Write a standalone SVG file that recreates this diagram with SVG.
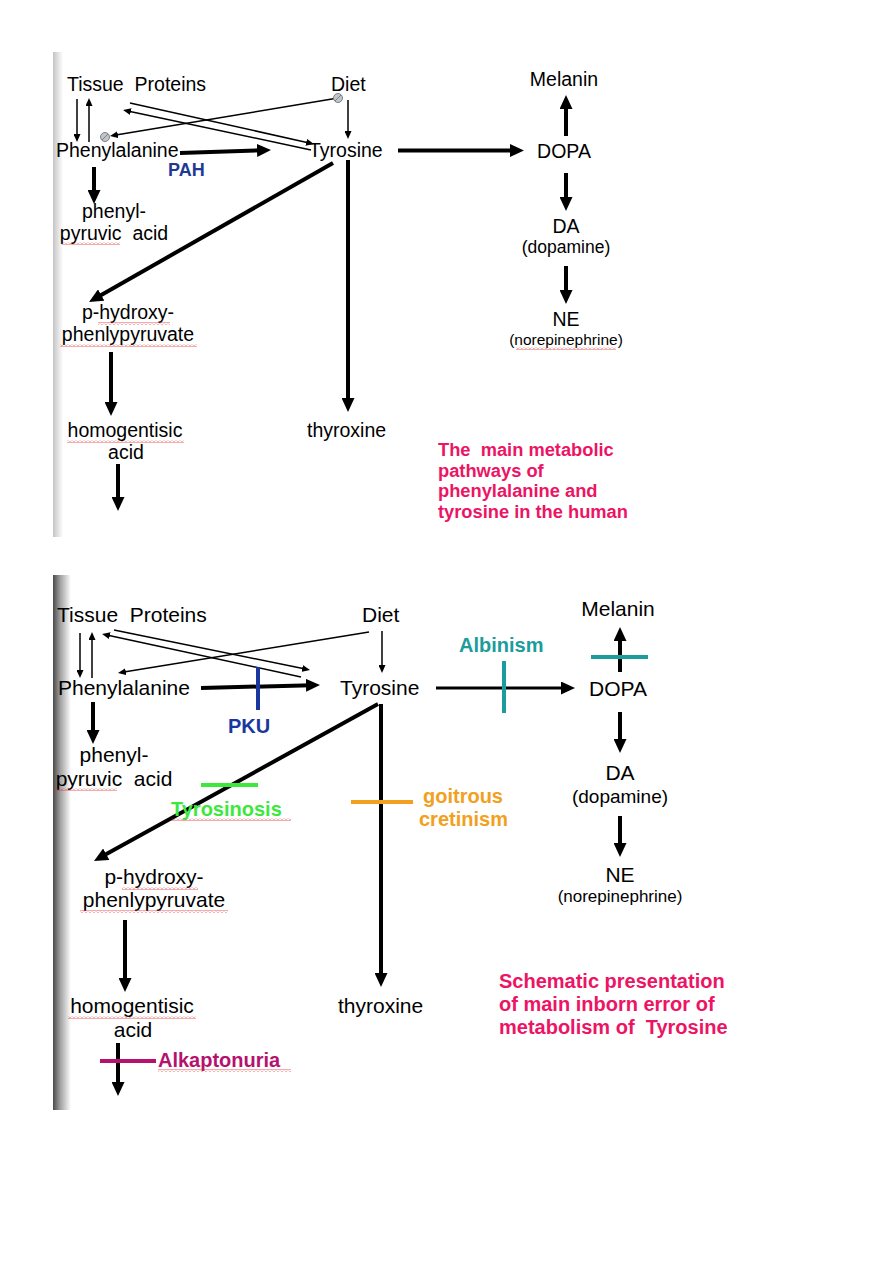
<svg xmlns="http://www.w3.org/2000/svg" width="893" height="1263" viewBox="0 0 893 1263">
<style>
text{font-family:"Liberation Sans",Arial,sans-serif;fill:#000}
.t1{font-size:19.5px}
.t2{font-size:21px}
.m{text-anchor:middle}
.b{font-weight:bold}
.thin{stroke:#000;stroke-width:1.5;fill:none;marker-end:url(#at)}
.thick{stroke:#000;stroke-width:4;fill:none;marker-end:url(#ah)}
.pink{fill:#ec1464;font-weight:bold}
.wave{fill:url(#wv)}
</style>
<defs>
<marker id="ah" markerUnits="userSpaceOnUse" viewBox="0 0 14 13" markerWidth="14" markerHeight="13" refX="6" refY="6.5" orient="auto"><path d="M0,0 L14,6.5 L0,13 z" fill="#000"/></marker>
<marker id="at" markerUnits="userSpaceOnUse" viewBox="0 0 8 7" markerWidth="8" markerHeight="7" refX="2" refY="3.5" orient="auto"><path d="M0,0 L8,3.5 L0,7 z" fill="#000"/></marker>
<pattern id="wv" patternUnits="userSpaceOnUse" width="4" height="3"><path d="M0,2.5 L2,0.5 L4,2.5" stroke="#e03030" stroke-width="0.8" fill="none"/></pattern>
<linearGradient id="g1" x1="0" y1="0" x2="1" y2="0"><stop offset="0" stop-color="#c4c4c4"/><stop offset="1" stop-color="#fff"/></linearGradient>
<linearGradient id="g2" x1="0" y1="0" x2="1" y2="0"><stop offset="0" stop-color="#4a4a4a"/><stop offset="0.4" stop-color="#a0a0a0"/><stop offset="1" stop-color="#fff"/></linearGradient>
</defs>
<rect width="893" height="1263" fill="#fff"/>
<rect x="53" y="52" width="10" height="485" fill="url(#g1)"/>
<rect x="53" y="575" width="18" height="535" fill="url(#g2)"/>

<g id="connectors">
<!-- top -->
<line class="thin" x1="77" y1="99" x2="77" y2="136"/>
<line class="thin" x1="89" y1="142" x2="89" y2="104"/>
<line class="thin" x1="130" y1="103" x2="308.1" y2="142.7"/>
<line class="thin" x1="311" y1="150" x2="128.9" y2="111.2"/>
<line class="thin" x1="338" y1="98" x2="115.9" y2="135"/>
<line class="thin" x1="348" y1="100" x2="348" y2="133"/>
<line class="thick" x1="180" y1="153" x2="263" y2="150.2"/>
<line class="thick" x1="398" y1="150.5" x2="516" y2="150.5"/>
<line class="thick" x1="566" y1="136" x2="566" y2="103"/>
<line class="thick" x1="566" y1="173" x2="566" y2="203"/>
<line class="thick" x1="566" y1="266" x2="566" y2="296"/>
<line class="thick" x1="94" y1="167" x2="94" y2="196"/>
<line class="thick" x1="333" y1="163" x2="96" y2="298"/>
<line class="thick" x1="348" y1="160" x2="348" y2="404"/>
<line class="thick" x1="111" y1="352" x2="111" y2="408"/>
<line class="thick" x1="118" y1="464" x2="118" y2="503"/>
<!-- bottom -->
<line class="thin" x1="80" y1="633" x2="80" y2="672"/>
<line class="thin" x1="92" y1="678" x2="92" y2="638"/>
<line class="thin" x1="114" y1="630" x2="304.1" y2="668.8"/>
<line class="thin" x1="301" y1="677" x2="107.9" y2="635.3"/>
<line class="thin" x1="369" y1="632" x2="123.9" y2="672"/>
<line class="thin" x1="382" y1="631" x2="382" y2="667"/>
<line class="thick" x1="201" y1="688" x2="312" y2="685.2"/>
<line class="thick" style="stroke-width:3" x1="436" y1="688" x2="567" y2="688"/>
<line class="thick" x1="620" y1="672" x2="620" y2="635"/>
<line class="thick" x1="620" y1="712" x2="620" y2="745"/>
<line class="thick" x1="620" y1="816" x2="620" y2="849"/>
<line class="thick" x1="93" y1="702" x2="93" y2="736"/>
<line class="thick" x1="378" y1="704" x2="101" y2="857.1"/>
<line class="thick" x1="381" y1="704" x2="381" y2="979"/>
<line class="thick" x1="125" y1="920" x2="125" y2="984"/>
<line class="thick" x1="118" y1="1043" x2="118" y2="1088"/>
</g>

<g id="blocks">
<line x1="258" y1="667" x2="258" y2="710" stroke="#1a37a0" stroke-width="4"/>
<line x1="504" y1="661" x2="504" y2="713" stroke="#1c9c9c" stroke-width="4"/>
<line x1="591" y1="657" x2="648" y2="657" stroke="#1c9c9c" stroke-width="4"/>
<line x1="201" y1="785" x2="258" y2="785" stroke="#3de83d" stroke-width="4"/>
<line x1="351" y1="802" x2="413" y2="802" stroke="#f2a020" stroke-width="4"/>
<line x1="100" y1="1061" x2="156" y2="1061" stroke="#b5126e" stroke-width="4"/>
</g>

<g id="top-diagram">
<g id="t-tissue"><text class="t1" x="67" y="91" xml:space="preserve">Tissue  Proteins</text></g>
<g id="t-diet"><text class="t1" x="331" y="91">Diet</text>
<circle cx="338" cy="98" r="4.5" fill="#c0c4cc" stroke="#808080" stroke-width="1"/><line x1="335" y1="101" x2="341" y2="95" stroke="#808080" stroke-width="1"/></g>
<g id="t-phe"><text class="t1" x="56" y="157">Phenylalanine</text>
<circle cx="105" cy="137" r="4.5" fill="#c0c4cc" stroke="#808080" stroke-width="1"/><line x1="102" y1="140" x2="108" y2="134" stroke="#808080" stroke-width="1"/></g>
<g id="t-pah"><text x="168" y="176" class="b" style="font-size:18px;fill:#1f3a93">PAH</text></g>
<g id="t-tyr"><text class="t1" x="309" y="157">Tyrosine</text></g>
<g id="t-dopa"><text class="t1 m" x="564" y="158">DOPA</text></g>
<g id="t-melanin"><text class="t1 m" x="564" y="86">Melanin</text></g>
<g id="t-da"><text class="t1 m" x="566" y="233">DA</text><text class="m" style="font-size:17.5px" x="566" y="253">(dopamine)</text></g>
<g id="t-ne"><text class="t1 m" x="566" y="326">NE</text><text class="m" style="font-size:15.5px" x="566" y="345">(norepinephrine)</text>
<rect class="wave" x="516" y="347" width="100" height="3"/></g>
<g id="t-ppa"><text class="t1 m" x="114" y="218">phenyl-</text><text class="t1 m" x="114" y="240" xml:space="preserve">pyruvic  acid</text>
<rect class="wave" x="62" y="242" width="58" height="3"/></g>
<g id="t-hpp"><text class="t1 m" x="128" y="319">p-hydroxy-</text><text class="t1 m" x="128" y="341">phenlypyruvate</text>
<rect class="wave" x="98" y="322" width="72" height="3"/><rect class="wave" x="60" y="344" width="137" height="3"/></g>
<g id="t-hga"><text class="t1 m" x="125" y="437">homogentisic</text><text class="t1 m" x="126" y="459">acid</text>
<rect class="wave" x="67" y="440" width="117" height="3"/></g>
<g id="t-thy"><text class="t1" x="307" y="437">thyroxine</text></g>
<g id="t-caption"><text class="pink" style="font-size:18.3px" xml:space="preserve"><tspan x="438" y="456">The  main metabolic</tspan><tspan x="438" y="477">pathways of</tspan><tspan x="438" y="497">phenylalanine and</tspan><tspan x="438" y="518">tyrosine in the human</tspan></text></g>
</g>

<g id="bottom-diagram">
<g id="b-tissue"><text class="t2" x="57" y="622" xml:space="preserve">Tissue  Proteins</text></g>
<g id="b-diet"><text class="t2" x="362" y="622">Diet</text></g>
<g id="b-phe"><text class="t2" x="58" y="695">Phenylalanine</text></g>
<g id="b-pku"><text x="228" y="733" class="b" style="font-size:20px;fill:#1a37a0">PKU</text></g>
<g id="b-tyr"><text class="t2" x="340" y="695">Tyrosine</text></g>
<g id="b-albinism"><text x="459" y="652" class="b" style="font-size:20px;fill:#1c9c9c">Albinism</text></g>
<g id="b-dopa"><text class="t2 m" x="618" y="696">DOPA</text></g>
<g id="b-melanin"><text class="t2 m" x="618" y="616">Melanin</text></g>
<g id="b-da"><text class="t2 m" x="620" y="780">DA</text><text class="m" style="font-size:19px" x="620" y="803">(dopamine)</text></g>
<g id="b-ne"><text class="t2 m" x="620" y="882">NE</text><text class="m" style="font-size:17px" x="620" y="902">(norepinephrine)</text></g>
<g id="b-ppa"><text class="t2 m" x="114" y="762">phenyl-</text><text class="t2 m" x="114" y="786" xml:space="preserve">pyruvic  acid</text>
<rect class="wave" x="55" y="788" width="62" height="3"/></g>
<g id="b-tyrosinosis"><text x="171" y="816" class="b" style="font-size:20px;fill:#3de83d">Tyrosinosis</text>
<rect class="wave" x="171" y="818" width="120" height="3"/></g>
<g id="b-goitrous"><text class="b" style="font-size:20px;fill:#f2a020"><tspan x="423" y="803">goitrous</tspan><tspan x="419" y="826">cretinism</tspan></text></g>
<g id="b-hpp"><text class="t2 m" x="154" y="884">p-hydroxy-</text><text class="t2 m" x="154" y="907">phenlypyruvate</text>
<rect class="wave" x="122" y="887" width="76" height="3"/><rect class="wave" x="80" y="910" width="148" height="3"/></g>
<g id="b-hga"><text class="t2 m" x="132" y="1013">homogentisic</text><text class="t2 m" x="133" y="1037">acid</text>
<rect class="wave" x="68" y="1016" width="128" height="3"/></g>
<g id="b-alk"><text x="158" y="1067" class="b" style="font-size:20px;fill:#b5126e">Alkaptonuria</text>
<rect class="wave" x="158" y="1069" width="133" height="3"/></g>
<g id="b-thy"><text class="t2" x="338" y="1013">thyroxine</text></g>
<g id="b-caption"><text class="pink" style="font-size:20px" xml:space="preserve"><tspan x="499" y="988">Schematic presentation</tspan><tspan x="499" y="1011">of main inborn error of</tspan><tspan x="499" y="1034">metabolism of  Tyrosine</tspan></text></g>
</g>
</svg>
